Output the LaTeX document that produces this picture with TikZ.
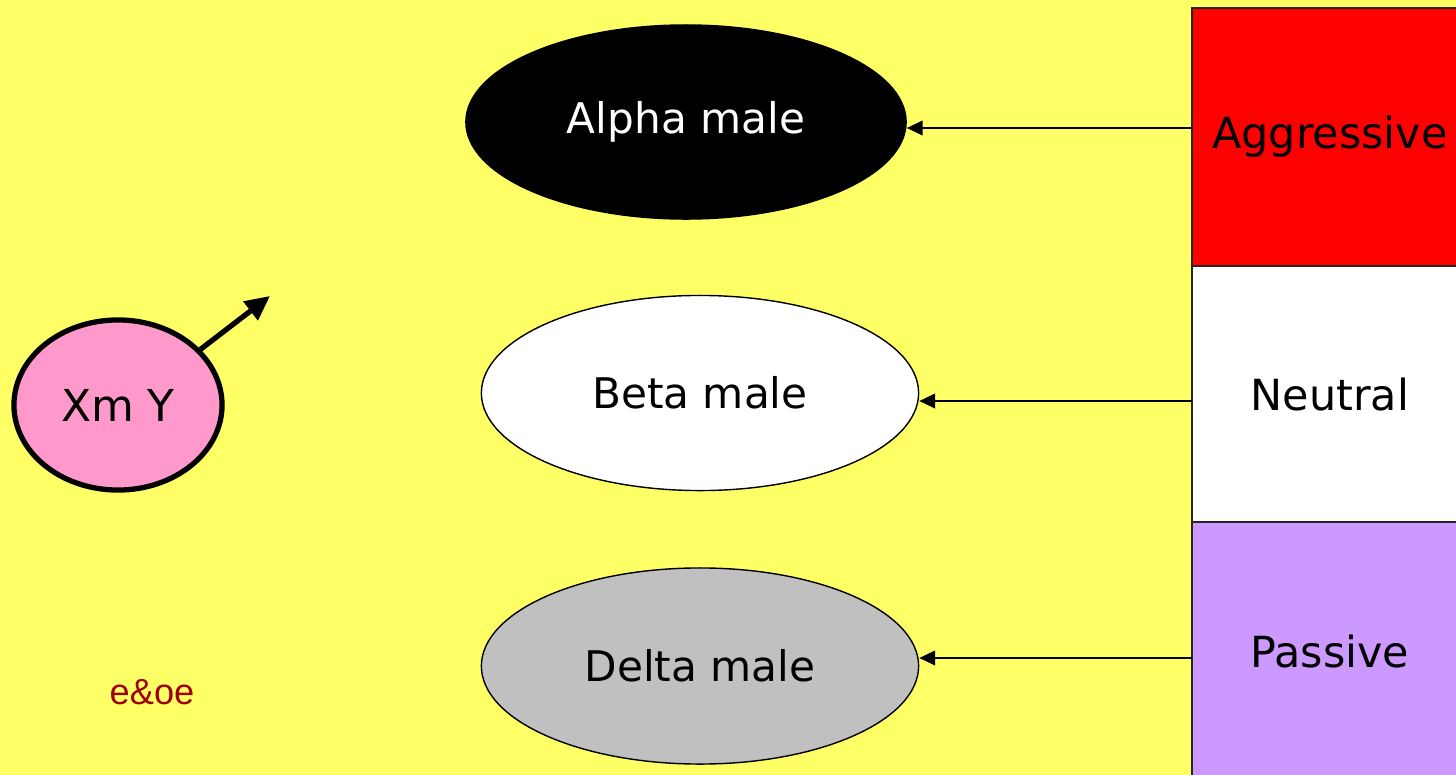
\documentclass[tikz,border=0pt]{standalone}
\usepackage{fontspec}
\setmainfont{DejaVu Sans}
\newfontfamily\arialfont{Liberation Sans}
\usetikzlibrary{shapes.geometric,arrows.meta}
\definecolor{bgyellow}{HTML}{FFFF66}
\definecolor{pinkc}{HTML}{FF99CC}
\definecolor{purplec}{HTML}{CC99FF}
\definecolor{grayc}{HTML}{C0C0C0}
\definecolor{darkredc}{HTML}{A00000}
\tikzset{
  oval/.style={ellipse, draw=black, line width=0.4pt, inner sep=0pt, font=\fontsize{12}{14}\selectfont},
  band/.style={rectangle, draw=black!85, line width=0.4pt, inner sep=0pt, minimum width=2.76cm, font=\fontsize{12.2}{14}\selectfont},
  link/.style={-{Triangle[length=4.5pt,width=4.2pt]}, line width=0.4pt},
  malearrow/.style={-{Triangle[length=7pt,width=6.5pt]}, line width=1.5pt},
}
\begin{document}
\begin{tikzpicture}[x=0.01cm,y=-0.01cm]
\useasboundingbox (0,0) rectangle (1456,775);
\fill[bgyellow] (0,0) rectangle (1456,775);
\begin{scope}
\clip (0,0) rectangle (1456,775);
\node[band, fill=red, minimum height=2.58cm] (agg) at (1330,137) {Aggressive};
\node[band, fill=white, minimum height=2.56cm] (neu) at (1330,394) {Neutral};
\node[band, fill=purplec, minimum height=2.58cm] (pas) at (1330,651) {Passive};
\end{scope}
\node[oval, fill=black, text=white, minimum width=4.40cm, minimum height=1.94cm] (alpha) at (686,122) {Alpha male};
\node[oval, fill=white, minimum width=4.37cm, minimum height=1.95cm] (beta) at (700,393) {Beta male};
\node[oval, fill=grayc, minimum width=4.37cm, minimum height=1.96cm] (delta) at (700,666) {Delta male};
\coordinate (a1) at (1192,128);
\coordinate (a2) at (1192,401);
\coordinate (a3) at (1192,658);
\draw[link] (a1) -- (alpha.east |- a1);
\draw[link] (a2) -- (beta.east |- a2);
\draw[link] (a3) -- (delta.east |- a3);
\node[ellipse, draw=black, line width=1.5pt, fill=pinkc, inner sep=0pt, minimum width=2.08cm, minimum height=1.70cm, font=\fontsize{12.5}{14}\selectfont] (xm) at (118,405) {Xm Y};
\coordinate (mtip) at (270,296);
\draw[malearrow] (xm.34) -- (mtip);
\node[text=darkredc, font=\arialfont\fontsize{10.3}{12}\selectfont] (eoe) at (152,692) {e\&oe};
\end{tikzpicture}
\end{document}
